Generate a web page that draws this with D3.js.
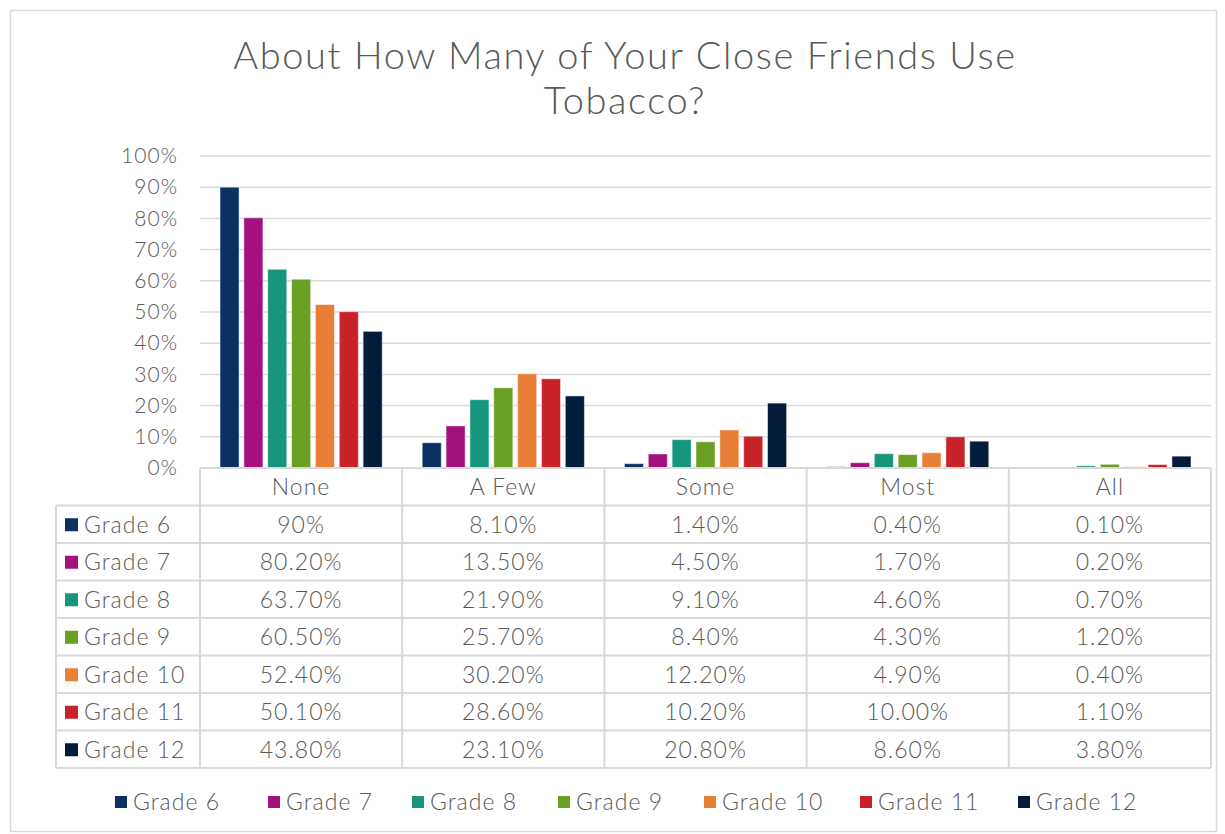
<!DOCTYPE html>
<html><head><meta charset="utf-8">
<script src="https://cdn.jsdelivr.net/npm/d3@7"></script>
<style>
body{margin:0;background:#fff;}
text{font-family:"Lato","Noto Sans",sans-serif;fill:#595959;letter-spacing:1px;}
</style></head>
<body><svg id="c" width="1225" height="834"></svg>
<script>
const categories = ["None","A Few","Some","Most","All"];
const grades = ["Grade 6","Grade 7","Grade 8","Grade 9","Grade 10","Grade 11","Grade 12"];
const colors = ["#0b3163","#a3117f","#16967c","#699f22","#e97f37","#c72329","#031c3b"];
const grade6 = [90.0, 8.1, 1.4, 0.4, 0.1];
const grade7 = [80.2, 13.5, 4.5, 1.7, 0.2];
const grade8 = [63.7, 21.9, 9.1, 4.6, 0.7];
const grade9 = [60.5, 25.7, 8.4, 4.3, 1.2];
const grade10 = [52.4, 30.2, 12.2, 4.9, 0.4];
const grade11 = [50.1, 28.6, 10.2, 10.0, 1.1];
const grade12 = [43.8, 23.1, 20.8, 8.6, 3.8];
const tableLabels = [
  ["90%","8.10%","1.40%","0.40%","0.10%"],
  ["80.20%","13.50%","4.50%","1.70%","0.20%"],
  ["63.70%","21.90%","9.10%","4.60%","0.70%"],
  ["60.50%","25.70%","8.40%","4.30%","1.20%"],
  ["52.40%","30.20%","12.20%","4.90%","0.40%"],
  ["50.10%","28.60%","10.20%","10.00%","1.10%"],
  ["43.80%","23.10%","20.80%","8.60%","3.80%"]
];
const yTicks = [0,10,20,30,40,50,60,70,80,90,100];
const series = [grade6,grade7,grade8,grade9,grade10,grade11,grade12];

const svg = d3.select("#c");
const grid = "#d9d9d9";
svg.append("rect").attr("x",10.5).attr("y",10.5).attr("width",1206).attr("height",821)
  .attr("fill","#fff").attr("stroke",grid).attr("stroke-width",1.5);

// title
const title = svg.append("text").attr("text-anchor","middle").style("font-size","38px").style("font-weight","300").style("letter-spacing","1.6px");
title.append("tspan").attr("x",625).attr("y",69).text("About How Many of Your Close Friends Use");
title.append("tspan").attr("x",625).attr("y",114).text("Tobacco?");

const pLeft = 200, pRight = 1211, pTop = 156, pBottom = 468;
const x = d3.scaleBand().domain(categories).range([pLeft,pRight]).padding(0);
const x1 = d3.scaleBand().domain(grades).range([20, x.bandwidth()-20]).paddingInner(0.2).paddingOuter(0);
const y = d3.scaleLinear().domain([0,100]).range([pBottom,pTop]);

// gridlines
svg.append("g").selectAll("line").data(yTicks.filter(d=>d>0)).join("line")
  .attr("x1",pLeft).attr("x2",pRight).attr("y1",d=>y(d)).attr("y2",d=>y(d))
  .attr("stroke",grid).attr("stroke-width",1.5);

// y axis labels
const yAxis = d3.axisLeft(y).tickValues(yTicks).tickFormat(d=>d+"%").tickSize(0).tickPadding(22);
const ya = svg.append("g").attr("transform",`translate(${pLeft},0)`).call(yAxis);
ya.select(".domain").remove();
ya.selectAll("text").style("font-size","21px").style("font-weight","300").attr("fill","#595959").style("font-family","Lato,'Noto Sans',sans-serif");

// bars
const gGroups = svg.append("g").selectAll("g").data(categories).join("g")
  .attr("transform",d=>`translate(${x(d)},0)`);
gGroups.selectAll("rect").data((c,ci)=>grades.map((g,gi)=>({g,gi,v:series[gi][ci]}))).join("rect")
  .attr("x",d=>x1(d.g)).attr("width",x1.bandwidth())
  .attr("y",d=>y(d.v)).attr("height",d=>pBottom-y(d.v))
  .attr("fill",d=>colors[d.gi]).attr("stroke","#ffffff").attr("stroke-opacity",0.5).attr("stroke-width",1);

// data table
const headerH = 37.5, rowH = 37.5, labelLeft = 56;
const tbl = svg.append("g");
const tableBottom = pBottom + headerH + rowH*grades.length;
tbl.append("line").attr("x1",pLeft).attr("x2",pRight).attr("y1",pBottom).attr("y2",pBottom).attr("stroke",grid).attr("stroke-width",2);
[0,1,2,3,4,5,6,7].forEach(i=>{
  const yy = pBottom + headerH + rowH*i;
  tbl.append("line").attr("x1",labelLeft).attr("x2",pRight).attr("y1",yy).attr("y2",yy).attr("stroke",grid).attr("stroke-width",2);
});
categories.forEach(c=>{
  tbl.append("line").attr("x1",x(c)).attr("x2",x(c)).attr("y1",pBottom).attr("y2",tableBottom).attr("stroke",grid).attr("stroke-width",2);
});
tbl.append("line").attr("x1",pRight).attr("x2",pRight).attr("y1",pBottom).attr("y2",tableBottom).attr("stroke",grid).attr("stroke-width",2);
tbl.append("line").attr("x1",labelLeft).attr("x2",labelLeft).attr("y1",pBottom+headerH).attr("y2",tableBottom).attr("stroke",grid).attr("stroke-width",2);

const fs = "23px", fw = "300";
tbl.selectAll("text.hdr").data(categories).join("text").attr("class","hdr")
  .attr("x",d=>x(d)+x.bandwidth()/2).attr("y",pBottom+headerH/2).attr("dy","0.36em")
  .attr("text-anchor","middle").style("font-size",fs).style("font-weight",fw).text(d=>d);

grades.forEach((g,gi)=>{
  const cy = pBottom + headerH + rowH*gi + rowH/2;
  tbl.append("rect").attr("x",65).attr("y",cy-6).attr("width",13).attr("height",13).attr("fill",colors[gi]);
  tbl.append("text").attr("x",84).attr("y",cy).attr("dy","0.36em").style("font-size",fs).style("font-weight",fw).text(g);
  categories.forEach((c,ci)=>{
    tbl.append("text").attr("x",x(c)+x.bandwidth()/2).attr("y",cy).attr("dy","0.36em")
      .attr("text-anchor","middle").style("font-size",fs).style("font-weight",fw).text(tableLabels[gi][ci]);
  });
});

// legend
const legX = [115,268,412,558,704,860,1018];
const leg = svg.append("g");
grades.forEach((g,gi)=>{
  leg.append("rect").attr("x",legX[gi]).attr("y",796).attr("width",12).attr("height",12).attr("fill",colors[gi]);
  leg.append("text").attr("x",legX[gi]+18).attr("y",802).attr("dy","0.36em").style("font-size",fs).style("font-weight",fw).text(g);
});
</script></body></html>
